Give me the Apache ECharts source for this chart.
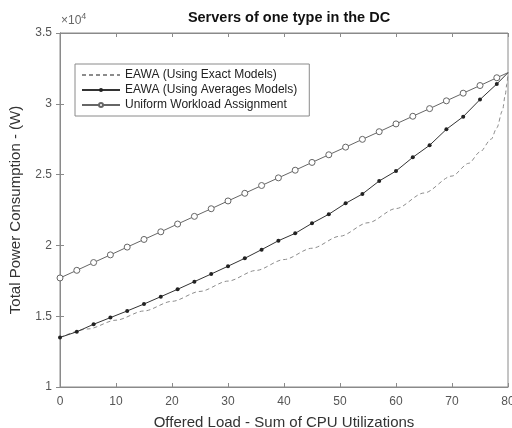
<!DOCTYPE html>
<html>
<head>
<meta charset="utf-8">
<script src="https://cdn.jsdelivr.net/npm/echarts@6/dist/echarts.min.js"></script>
<style>html,body{margin:0;padding:0;background:#fff}#c{width:512px;height:428px}</style>
</head>
<body>
<div id="c"></div>
<script>
// Data (power in W)
const title = "Servers of one type in the DC";
const xName = "Offered Load - Sum of CPU Utilizations";
const yName = "Total Power Consumption - (W)";
const seriesNames = ["EAWA (Using Exact Models)", "EAWA (Using Averages Models)", "Uniform Workload Assignment"];
const xTicks = [0, 10, 20, 30, 40, 50, 60, 70, 80];
const yTicks = [10000, 15000, 20000, 25000, 30000, 35000];

const exactX = [0, 5, 10, 15, 20, 25, 30, 35, 40, 45, 50, 55, 60, 65, 70, 73, 75, 77, 78, 79, 79.5, 79.8, 80];
const exactY = [13500, 14100, 14720, 15370, 16050, 16750, 17480, 18230, 19000, 19800, 20650, 21600, 22600, 23700, 24900, 25800, 26600, 27500, 28300, 29500, 30600, 31400, 32200];

const markX = [0, 3, 6, 9, 12, 15, 18, 21, 24, 27, 30, 33, 36, 39, 42, 45, 48, 51, 54, 57, 60, 63, 66, 69, 72, 75, 78, 80];
const avgY = [13500, 13900, 14430, 14900, 15370, 15860, 16380, 16900, 17440, 17980, 18530, 19090, 19700, 20330, 20850, 21560, 22200, 22970, 23630, 24550, 25250, 26220, 27070, 28200, 29090, 30300, 31400, 32200];
const uniY = [17700, 18240, 18790, 19330, 19880, 20420, 20960, 21510, 22050, 22590, 23140, 23680, 24230, 24770, 25310, 25860, 26400, 26940, 27490, 28030, 28580, 29120, 29660, 30210, 30750, 31290, 31840, 32200];

const FONT = "Liberation Sans, Arial, sans-serif";
function pts(xs, ys, lastNoSym) {
  return xs.map((x, i) => (lastNoSym && i === xs.length - 1) ? {value: [x, ys[i]], symbol: 'none'} : [x, ys[i]]);
}

const chart = echarts.init(document.getElementById('c'));
const axisCommon = {
  axisLine: {show: true, lineStyle: {color: '#8a8a8a', width: 1}},
  axisTick: {show: true, inside: true, length: 4, lineStyle: {color: '#8a8a8a'}},
  splitLine: {show: false}
};
chart.setOption({
  animation: false,
  backgroundColor: '#fff',
  title: {
    text: title, left: 284, top: 5, textAlign: 'center',
    textStyle: {fontFamily: FONT, fontSize: 14.5, fontWeight: 'bold', color: '#111'}
  },
  graphic: [{
    type: 'text', left: 61, top: 12,
    style: {
      text: '{a|×10}{b|4}',
      rich: {
        a: {fontFamily: FONT, fontSize: 12, fill: '#666'},
        b: {fontFamily: FONT, fontSize: 9, fill: '#666', verticalAlign: 'top', padding: [0, 0, 8, 0]}
      }
    }
  }],
  legend: {
    orient: 'vertical', left: 75, top: 64,
    backgroundColor: '#fff', borderColor: '#8a8a8a', borderWidth: 1,
    padding: [5, 12, 5, 6], itemGap: 3, itemWidth: 38, itemHeight: 5,
    textStyle: {fontFamily: FONT, fontSize: 12, color: '#222'},
    data: [
      {name: seriesNames[0], itemStyle: {opacity: 0}},
      {name: seriesNames[1]},
      {name: seriesNames[2]}
    ]
  },
  grid: {left: 60, right: 4, top: 33, bottom: 41, outerBoundsMode: 'none', containLabel: false,
         show: true, borderColor: '#8a8a8a', borderWidth: 1},
  xAxis: [{
    type: 'value', min: 0, max: 80, interval: 10, ...axisCommon,
    name: xName, nameLocation: 'middle', nameGap: 28,
    nameTextStyle: {fontFamily: FONT, fontSize: 15, color: '#333'},
    axisLabel: {fontFamily: FONT, fontSize: 12, color: '#555', margin: 9, showMaxLabel: true}
  }, {
    type: 'value', min: 0, max: 80, interval: 10, position: 'top', ...axisCommon,
    axisLabel: {show: false}
  }],
  yAxis: [{
    type: 'value', min: 10000, max: 35000, interval: 5000, ...axisCommon,
    name: yName, nameLocation: 'middle', nameGap: 37,
    nameTextStyle: {fontFamily: FONT, fontSize: 15, color: '#333'},
    axisLabel: {fontFamily: FONT, fontSize: 12, color: '#555', margin: 8, formatter: v => String(v / 10000)}
  }, {
    type: 'value', min: 10000, max: 35000, interval: 5000, position: 'right', ...axisCommon,
    axisLabel: {show: false}
  }],
  series: [{
    name: seriesNames[0], type: 'line', data: pts(exactX, exactY, false),
    showSymbol: false, symbol: 'circle', smooth: 0.3, smoothMonotone: 'x',
    lineStyle: {color: '#8c8c8c', width: 1, type: [4, 3]},
    itemStyle: {color: '#8c8c8c'}
  }, {
    name: seriesNames[1], type: 'line', data: pts(markX, avgY, true),
    symbol: 'circle', symbolSize: 4,
    lineStyle: {color: '#333', width: 1},
    itemStyle: {color: '#222', borderWidth: 0}
  }, {
    name: seriesNames[2], type: 'line', data: pts(markX, uniY, true),
    symbol: 'circle', symbolSize: 6,
    lineStyle: {color: '#666', width: 1},
    itemStyle: {color: '#fff', borderColor: '#666', borderWidth: 1}
  }]
});
</script>
</body>
</html>
